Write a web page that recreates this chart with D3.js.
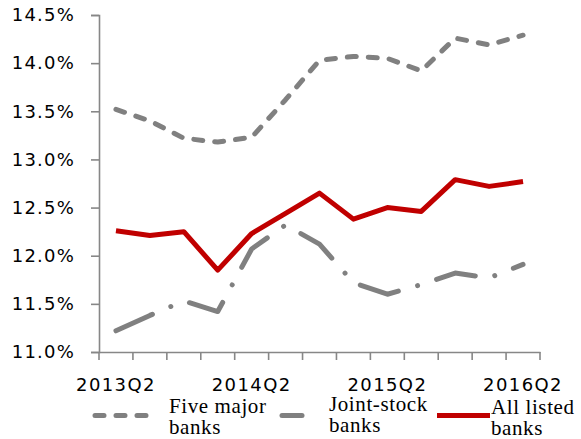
<!DOCTYPE html>
<html>
<head>
<meta charset="utf-8">
<script src="https://cdn.jsdelivr.net/npm/d3@7"></script>
<style>
  body { margin: 0; background: #fff; }
  svg { display: block; }
</style>
</head>
<body>
<div id="chart"></div>
<script>
// quarters on the x axis
const quarters = [
  "2013Q2", "2013Q3", "2013Q4", "2014Q1", "2014Q2", "2014Q3", "2014Q4",
  "2015Q1", "2015Q2", "2015Q3", "2015Q4", "2016Q1", "2016Q2"
];
// series values (%)
const fiveMajor = [13.52, 13.40, 13.22, 13.18, 13.23, 13.62, 14.03, 14.07, 14.05, 13.92, 14.26, 14.19, 14.29];
const jointStock = [11.22, 11.38, 11.53, 11.42, 12.07, 12.32, 12.12, 11.72, 11.60, 11.70, 11.82, 11.77, 11.91];
const allListed = [12.26, 12.21, 12.25, 11.85, 12.23, 12.44, 12.65, 12.38, 12.50, 12.46, 12.79, 12.72, 12.77];
const yTicks = [11.0, 11.5, 12.0, 12.5, 13.0, 13.5, 14.0, 14.5];
const xLabels = ["2013Q2", "2014Q2", "2015Q2", "2016Q2"];

const width = 581, height = 439;
const axisColor = "#878787";

const svg = d3.select("#chart")
  .append("svg")
  .attr("width", width)
  .attr("height", height);

// scales
const x = d3.scaleBand().domain(quarters).range([99, 540]);
const y = d3.scaleLinear().domain([11, 14.5]).range([352, 15]);

// y axis
const yAxis = svg.append("g")
  .attr("transform", "translate(99,0)")
  .call(d3.axisLeft(y).tickValues(yTicks).tickSize(8).tickPadding(16)
    .tickFormat(d => d3.format(".1f")(d) + "%"));
yAxis.selectAll("path, line").attr("stroke", axisColor).attr("stroke-width", 1.6);
yAxis.selectAll("text")
  .attr("font-family", "DejaVu Sans, Verdana, sans-serif")
  .attr("font-size", 18)
  .attr("letter-spacing", 1.2)
  .attr("fill", "#000");

// x axis: labels at quarter centres, ticks at boundaries
const xAxis = svg.append("g")
  .attr("transform", "translate(0,352)")
  .call(d3.axisBottom(x).tickValues(xLabels).tickSize(0).tickPadding(26));
xAxis.select(".domain").attr("stroke", axisColor).attr("stroke-width", 1.6);
xAxis.selectAll("text")
  .attr("font-family", "DejaVu Sans, Verdana, sans-serif")
  .attr("font-size", 18)
  .attr("letter-spacing", 1.4)
  .attr("fill", "#000");

const bounds = quarters.map(q => x(q)).concat([x.range()[1]]);
svg.append("g")
  .selectAll("line")
  .data(bounds)
  .enter()
  .append("line")
  .attr("x1", d => d).attr("x2", d => d)
  .attr("y1", 352).attr("y2", 360)
  .attr("stroke", axisColor)
  .attr("stroke-width", 1.6);

// lines
const line = d3.line()
  .x((d, i) => x(quarters[i]) + x.bandwidth() / 2)
  .y(d => y(d));

const series = [
  { name: "Five major", values: fiveMajor, color: "#808080", dash: "9,12" },
  { name: "Joint-stock", values: jointStock, color: "#808080", dash: "40,20,0.01,20" },
  { name: "All listed", values: allListed, color: "#c00000", dash: null }
];

svg.selectAll(".series")
  .data(series)
  .enter()
  .append("path")
  .attr("class", "series")
  .attr("d", d => line(d.values))
  .attr("fill", "none")
  .attr("stroke", d => d.color)
  .attr("stroke-width", 5)
  .attr("stroke-linecap", d => d.dash ? "round" : "butt")
  .attr("stroke-linejoin", "round")
  .attr("stroke-dasharray", d => d.dash);

// legend
const legendItems = [
  { s: series[0], x1: 95, x2: 158, dash: "9,12", tx: 169, ty: 413 },
  { s: series[1], x1: 282, x2: 302, dash: null, tx: 329, ty: 411 },
  { s: series[2], x1: 437, x2: 490, dash: null, tx: 491, ty: 414 }
];

const legend = svg.append("g");
legendItems.forEach(it => {
  legend.append("line")
    .attr("x1", it.x1).attr("x2", it.x2)
    .attr("y1", 415.5).attr("y2", 415.5)
    .attr("stroke", it.s.color)
    .attr("stroke-width", 5)
    .attr("stroke-linecap", it.s === series[2] ? "butt" : "round")
    .attr("stroke-dasharray", it.dash);
  const t = legend.append("text")
    .attr("x", it.tx)
    .attr("y", it.ty)
    .attr("font-family", "Liberation Serif, Times New Roman, serif")
    .attr("font-size", 21)
    .attr("letter-spacing", 0.6)
    .attr("fill", "#000");
  t.append("tspan").attr("x", it.tx).text(it.s.name);
  t.append("tspan").attr("x", it.tx).attr("dy", 21).text("banks");
});
</script>
</body>
</html>
